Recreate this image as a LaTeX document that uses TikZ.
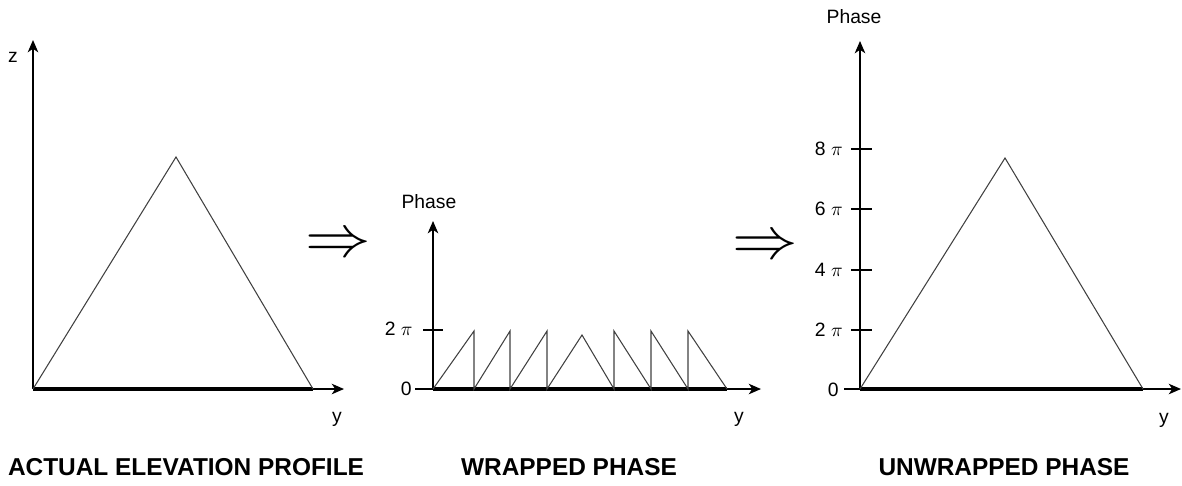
\documentclass[tikz,border=0pt]{standalone}
\usepackage{fontspec}
\setmainfont{Liberation Sans}
\usetikzlibrary{arrows.meta,positioning}

\begin{document}
\begin{tikzpicture}[x=0.02cm,y=-0.02cm,
  axis/.style={line width=0.8pt,-{Stealth[length=7pt,width=6pt,inset=2pt]}},
  base/.style={line width=1.8pt},
  curve/.style={line width=0.6pt,black!75},
  tick/.style={line width=0.8pt},
  lbl/.style={font=\fontsize{11}{13}\selectfont,inner sep=0pt},
  ttl/.style={font=\fontsize{13.9}{16}\selectfont\bfseries,inner sep=0pt},
  imp/.style={font=\fontsize{30}{30}\selectfont,inner sep=0pt}]
\useasboundingbox (0,0) rectangle (1182,485);
% actual elevation profile
\coordinate (o1) at (33,389);
\coordinate (z1) at (33,40);
\coordinate (y1) at (344,389);
\coordinate (p1) at (176,157);
\coordinate (e1) at (313,389);
\draw[axis] (o1) -- (z1);
\draw[axis] (o1) -- (y1);
\draw[base] (o1) -- (e1);
\draw[curve] (o1) -- (p1) -- (e1);
\node[lbl] (zl1) at (13,57) {z};
\node[lbl] (yl1) at (337,419) {y};
\node[ttl] (t1) at (186,467) {ACTUAL ELEVATION PROFILE};
\node[imp] (a1) at (338,246) {\scalebox{1.5}[1.35]{$\Rightarrow$}};
% wrapped phase
\coordinate (o2) at (433,389);
\coordinate (z2) at (433,221);
\coordinate (y2) at (761,389);
\coordinate (e2) at (727,389);
\draw[axis] (o2) -- (z2);
\draw[axis] ([xshift=-10]o2) -- (y2);
\draw[base] (o2) -- (e2);
\draw[tick] (423,330) -- (443,330);
\draw[curve] (o2) -- (474,331) -- (474,389) -- (510,331) -- (510,389)
  -- (547,331) -- (547,389) -- (582,335) -- (614,389) -- (614,331)
  -- (651,389) -- (651,331) -- (688,389) -- (688,331) -- (e2);
\node[lbl,anchor=east] (zero2) at (412,389) {0};
\node[lbl,anchor=east] (tp2) at (413,329) {2 $\pi$};
\node[lbl] (ph2) at (429,202) {Phase};
\node[lbl] (yl2) at (739,419) {y};
\node[ttl] (t2) at (569,467) {WRAPPED PHASE};
\node[imp] (a2) at (765,248) {\scalebox{1.5}[1.35]{$\Rightarrow$}};
% unwrapped phase
\coordinate (o3) at (860,389);
\coordinate (z3) at (860,41);
\coordinate (y3) at (1181,389);
\coordinate (p3) at (1005,158);
\coordinate (e3) at (1143,389);
\draw[axis] (o3) -- (z3);
\draw[axis] ([xshift=-9]o3) -- (y3);
\draw[base] (o3) -- (e3);
\draw[curve] (o3) -- (p3) -- (e3);
\draw[tick] (851,330) -- (872,330);
\draw[tick] (851,270) -- (872,270);
\draw[tick] (851,209) -- (872,209);
\draw[tick] (851,149) -- (872,149);
\node[lbl,anchor=east] (zero3) at (839,390) {0};
\node[lbl,anchor=east] (tp3) at (843,330) {2 $\pi$};
\node[lbl,anchor=east] (fp3) at (843,270) {4 $\pi$};
\node[lbl,anchor=east] (sp3) at (843,209) {6 $\pi$};
\node[lbl,anchor=east] (ep3) at (843,149) {8 $\pi$};
\node[lbl] (ph3) at (854,17) {Phase};
\node[lbl] (yl3) at (1164,420) {y};
\node[ttl] (t3) at (1004,467) {UNWRAPPED PHASE};
\end{tikzpicture}
\end{document}
